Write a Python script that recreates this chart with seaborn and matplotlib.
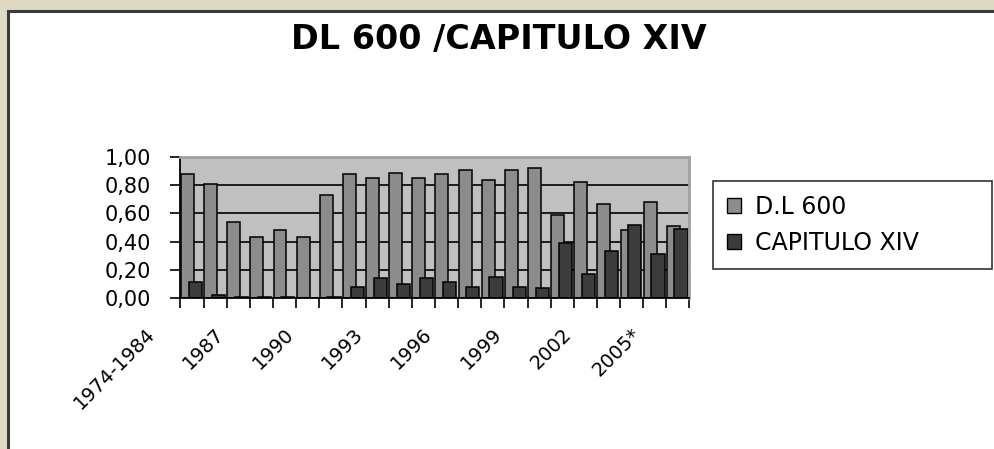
import numpy as np
import pandas as pd
import matplotlib
matplotlib.use('Agg')
import matplotlib.pyplot as plt
import matplotlib.transforms as mtransforms
from matplotlib.patches import Rectangle, Patch
import seaborn as sns

periodos = ['1974-1984'] + [str(a) for a in range(1985, 2005)] + ['2005*']
dl600 = [0.88, 0.81, 0.54, 0.43, 0.48, 0.43, 0.73, 0.88, 0.85, 0.89, 0.85,
         0.88, 0.91, 0.84, 0.91, 0.92, 0.59, 0.82, 0.67, 0.48, 0.68, 0.51]
capitulo14 = [0.11, 0.02, 0.01, 0.01, 0.01, 0.00, 0.01, 0.08, 0.14, 0.10, 0.14,
              0.11, 0.08, 0.15, 0.08, 0.07, 0.39, 0.17, 0.33, 0.52, 0.31, 0.49]
series = ['D.L 600', 'CAPITULO XIV']
colores = ['#8c8c8c', '#3c3c3c']
yticks = [0.0, 0.2, 0.4, 0.6, 0.8, 1.0]

df = pd.DataFrame({
    'Periodo': periodos * 2,
    'Valor': dl600 + capitulo14,
    'Serie': [series[0]] * len(periodos) + [series[1]] * len(periodos),
})

sns.set_style('white')
plt.rcParams['font.family'] = ['DejaVu Sans']
plt.rcParams['text.color'] = 'black'
plt.rcParams['xtick.color'] = 'black'
plt.rcParams['ytick.color'] = 'black'
plt.rcParams['axes.labelcolor'] = 'black'

fig = plt.figure(figsize=(9.95, 4.49), dpi=100, facecolor='#ddd9c3')
# white chart area with dark frame (like the excel window)
fig.add_artist(Rectangle((8 / 995, -0.1), 1.1, (449 - 11) / 449 + 0.1,
                         transform=fig.transFigure, facecolor='white',
                         edgecolor='#3a3a3a', lw=2.2, zorder=0))

ax = fig.add_axes([180.5 / 995, 151 / 449, 509 / 995, 141 / 449])
sns.barplot(data=df, x='Periodo', y='Valor', hue='Serie', palette=colores,
            edgecolor='black', linewidth=1.1, ax=ax, legend=False)

# excel style overlapping bars
for i, p in enumerate(ax.containers[0]):
    p.set_x(i - 0.48)
    p.set_width(0.56)
for i, p in enumerate(ax.containers[1]):
    p.set_x(i - 0.15)
    p.set_width(0.57)

ax.set_facecolor('#c0c0c0')
ax.set_ylim(0, 1)
ax.set_xlim(-0.5, len(periodos) - 0.5)
ax.yaxis.grid(True, color='black', lw=1.2)
ax.set_axisbelow(True)
for s in ['top', 'right']:
    ax.spines[s].set_color('#a0a0a0')
    ax.spines[s].set_linewidth(2)
for s in ['left', 'bottom']:
    ax.spines[s].set_color('black')
    ax.spines[s].set_linewidth(1.3)

ax.set_yticks(yticks)
ax.set_yticklabels([f'{v:.2f}'.replace('.', ',') for v in yticks], fontsize=15)
ax.tick_params(axis='y', length=7.5, width=1.2, color='black', left=True, pad=14)

ax.set_xticks(np.arange(len(periodos) + 1) - 0.5)
ax.set_xticklabels([])
ax.tick_params(axis='x', which='major', length=7, width=1.2, color='black', bottom=True)
idx = np.arange(0, len(periodos), 3)
ax.set_xticks(idx, [periodos[i] for i in idx], minor=True, rotation=45,
              ha='right', va='top', rotation_mode='anchor', fontsize=14)
ax.tick_params(axis='x', which='minor', length=0, pad=19)
ax.set_xlabel('')
ax.set_ylabel('')

offset = mtransforms.ScaledTranslation(-47 / 100, 0, fig.dpi_scale_trans)
for lab in ax.get_xticklabels(minor=True):
    lab.set_transform(lab.get_transform() + offset)

fig.text(499 / 995, 1 - 39 / 449, 'DL 600 /CAPITULO XIV', ha='center',
         va='center', fontsize=24, fontweight='bold', color='black')

handles = [Patch(facecolor=c, edgecolor='black', lw=1) for c in colores]
leg = ax.legend(handles, series, loc='upper left', mode='expand',
                bbox_to_anchor=(713 / 995, 1 - 265 / 449, 279 / 995, 84 / 449),
                bbox_transform=fig.transFigure, frameon=True, fancybox=False,
                edgecolor='black', fontsize=17, handlelength=0.6,
                handleheight=0.6, handletextpad=0.6, labelspacing=0.5,
                borderpad=0.6, borderaxespad=0)
leg.get_frame().set_linewidth(1.2)

plt.savefig('out.png', dpi=100, facecolor=fig.get_facecolor())
